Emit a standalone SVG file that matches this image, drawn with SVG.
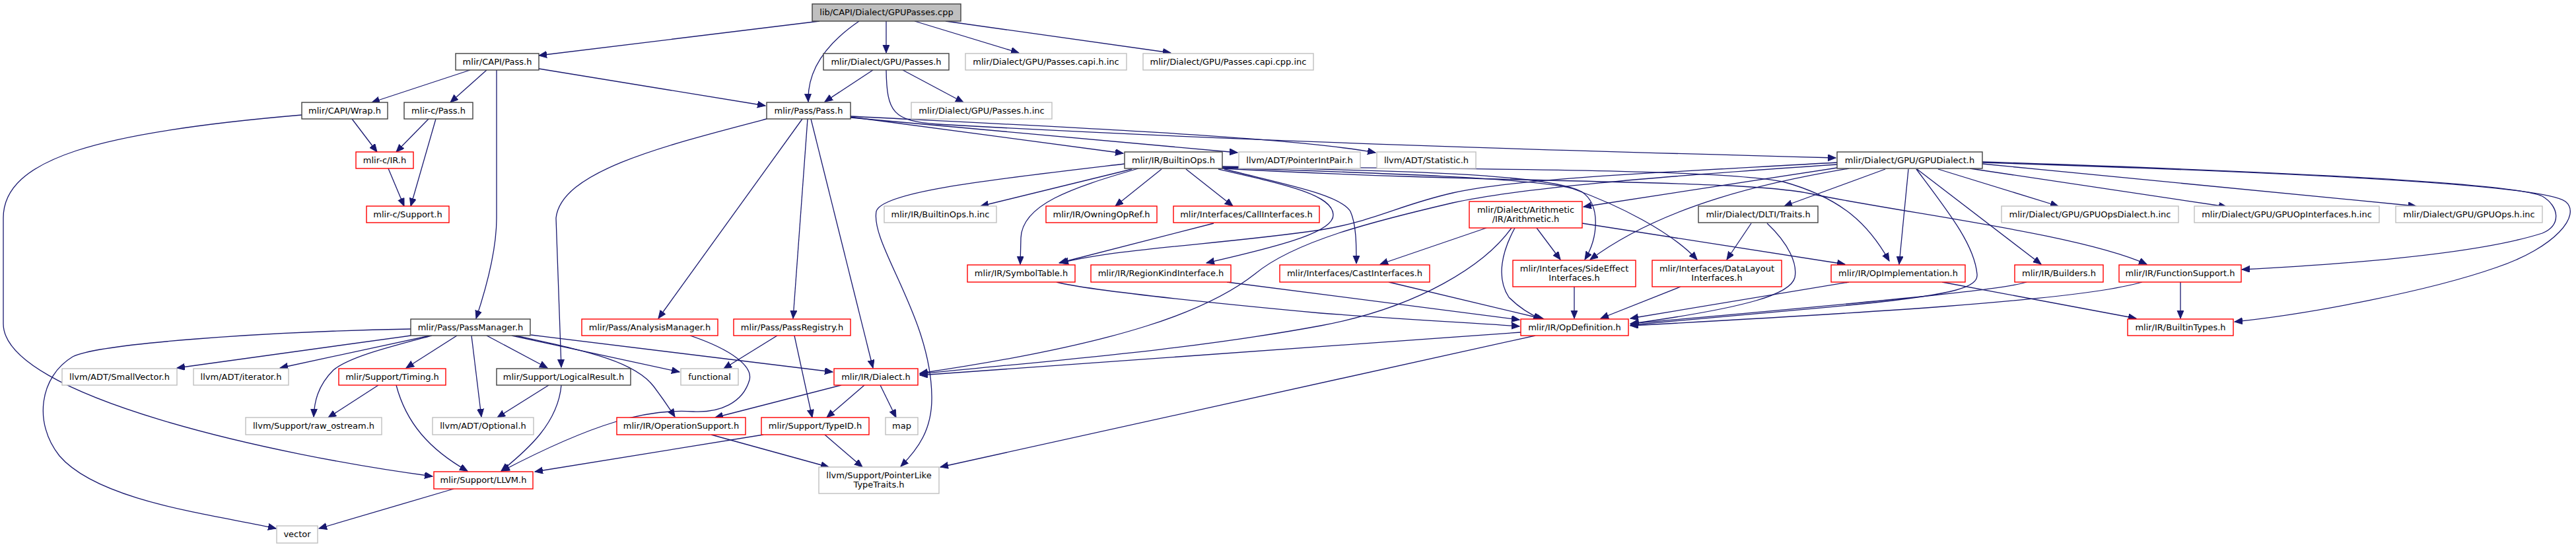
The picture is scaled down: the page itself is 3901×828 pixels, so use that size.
<svg xmlns="http://www.w3.org/2000/svg" width="3901" height="828" viewBox="0 0 3901 828">
<style>
rect{fill:#fff;stroke-width:1.4}
.b rect{stroke:#404040}
.r rect{stroke:#ff0000}
.g rect{stroke:#bfbfbf}
text{font-family:"DejaVu Sans","Liberation Sans",sans-serif;font-size:13px;text-anchor:middle;fill:#000}
#edges path{fill:none;stroke:#191970;stroke-width:1.3;marker-end:url(#a)}
</style>
<defs>
<marker id="a" markerUnits="userSpaceOnUse" markerWidth="14" markerHeight="12" refX="12" refY="5" orient="auto">
<path d="M0,0 L12,5 L0,10 z" fill="#191970" stroke="#191970" stroke-width="1"/>
</marker>
</defs>
<rect x="0" y="0" width="3901" height="828" style="fill:#fff;stroke:none"/>
<g id="edges">
<path d="M1241,32 L816,84"/>
<path d="M1301,32 C1260,60 1222,100 1224,154"/>
<path d="M1342,32 L1342,80"/>
<path d="M1385,32 L1543,80"/>
<path d="M1432,32 L1773,80"/>
<path d="M712,106 L563,155"/>
<path d="M737,106 L682,155"/>
<path d="M752,106 L752,330 C752,380 735,440 721,482"/>
<path d="M816,104 L1159,160"/>
<path d="M533,180 L571,230"/>
<path d="M457,174 C150,200 5,240 5,330 L5,490 C5,600 420,690 655,721"/>
<path d="M649,180 L600,230"/>
<path d="M660,180 L622,312"/>
<path d="M588,255 L612,312"/>
<path d="M1322,106 L1249,154"/>
<path d="M1367,106 L1459,155"/>
<path d="M1342,106 C1343,170 1352,183 1420,188 C1900,215 2400,229 2780,239"/>
<path d="M1288,177 L1701,232"/>
<path d="M1288,178 L1874,231"/>
<path d="M1288,176 C1600,192 1950,207 2083,231"/>
<path d="M1161,180 C1000,222 850,260 842,330 L850,556"/>
<path d="M1215,180 L997,482"/>
<path d="M1223,180 L1201,482"/>
<path d="M1228,180 L1322,557"/>
<path d="M1703,248 C1500,272 1335,290 1327,320 C1318,370 1410,480 1411,600 C1412,650 1390,680 1364,706"/>
<path d="M1714,256 L1485,312"/>
<path d="M1724,255 C1620,285 1548,310 1546,360 L1545,400"/>
<path d="M1759,256 L1689,312"/>
<path d="M1796,256 L1867,312"/>
<path d="M1845,256 C1950,280 2018,295 2019,325 C2020,350 1950,370 1827,398"/>
<path d="M1854,256 C1950,280 2030,295 2045,320 C2054,340 2054,370 2054,399"/>
<path d="M1851,253 C2100,258 2340,262 2395,290 C2425,310 2420,360 2400,393"/>
<path d="M1851,254 C2100,262 2320,270 2380,285 C2450,310 2530,350 2570,393"/>
<path d="M1851,252 C2200,256 2600,255 2700,275 C2790,300 2830,340 2861,395"/>
<path d="M1851,255 C2300,280 2650,270 2750,295 C2900,325 3150,355 3251,400"/>
<path d="M1838,338 L1604,398"/>
<path d="M2782,246 C2500,262 2300,270 2200,292 C2120,310 2080,335 2000,348 C1850,370 1700,375 1606,398"/>
<path d="M2782,249 C2500,268 2300,285 2200,307 C2080,335 1960,365 1900,415 C1830,470 1700,520 1393,565"/>
<path d="M2782,254 L2398,313"/>
<path d="M2800,255 C2680,275 2520,310 2408,393"/>
<path d="M2855,256 L2702,312"/>
<path d="M2890,256 L2876,400"/>
<path d="M2902,256 C2950,320 2990,370 2994,415 C2996,435 2960,445 2830,459 C2700,472 2560,483 2469,492"/>
<path d="M2903,256 L3091,400"/>
<path d="M2935,256 L3117,312"/>
<path d="M2983,255 L3372,313"/>
<path d="M3002,248 L3659,312"/>
<path d="M3002,245 C3400,258 3800,275 3850,297 C3875,312 3880,340 3850,353 C3750,385 3550,400 3395,408"/>
<path d="M3002,246 C3500,262 3850,280 3885,305 C3910,325 3870,375 3780,405 C3680,440 3500,475 3384,487"/>
<path d="M3302,427 L3302,482"/>
<path d="M2941,427 L3235,482"/>
<path d="M3069,427 C3030,440 2800,460 2469,490"/>
<path d="M3244,427 C3150,455 2800,475 2469,493"/>
<path d="M2800,427 L2469,482"/>
<path d="M2652,338 L2615,393"/>
<path d="M2676,338 C2710,370 2722,400 2718,420 C2712,445 2650,465 2470,490"/>
<path d="M2251,345 L2090,400"/>
<path d="M2327,345 L2363,393"/>
<path d="M2396,338 L2794,400"/>
<path d="M2294,345 C2275,380 2265,420 2285,450 C2300,465 2315,475 2334,483"/>
<path d="M2289,345 C2250,400 2150,465 2000,493 C1800,530 1600,545 1393,566"/>
<path d="M2384,434 L2384,482"/>
<path d="M2545,434 L2424,482"/>
<path d="M1600,427 C1650,440 1850,460 2000,474 C2150,485 2250,490 2301,494"/>
<path d="M1858,427 L2301,484"/>
<path d="M2103,427 L2338,483"/>
<path d="M2303,503 L1393,568"/>
<path d="M2325,508 L1424,707"/>
<path d="M622,498 C400,502 150,520 110,540 C60,570 50,640 90,690 C150,760 330,780 418,800"/>
<path d="M622,508 L268,557"/>
<path d="M651,508 L424,557"/>
<path d="M654,508 C590,525 530,540 505,560 C480,585 476,610 475,631"/>
<path d="M692,508 L615,557"/>
<path d="M714,508 L729,631"/>
<path d="M737,508 L829,557"/>
<path d="M775,508 L1029,563"/>
<path d="M781,508 C880,530 960,545 990,585 C1005,605 1015,620 1022,631"/>
<path d="M804,507 L1261,563"/>
<path d="M573,583 L497,632"/>
<path d="M600,583 C615,640 650,680 708,713"/>
<path d="M831,583 L753,632"/>
<path d="M850,583 C845,640 800,680 759,713"/>
<path d="M687,740 L483,800"/>
<path d="M1177,508 L1096,558"/>
<path d="M1203,508 L1230,632"/>
<path d="M1045,508 C1110,530 1140,555 1135,575 C1125,610 1090,625 1050,623 C980,618 900,640 760,713"/>
<path d="M1274,583 L1083,632"/>
<path d="M1309,583 L1252,632"/>
<path d="M1333,583 L1357,632"/>
<path d="M1077,658 L1255,707"/>
<path d="M1249,658 L1306,707"/>
<path d="M1156,658 L810,714"/>
</g>
<g id="root" class="b"><rect x="1230" y="6" width="225" height="26" style="fill:#bfbfbf"/><text x="1342.5" y="23">lib/CAPI/Dialect/GPUPasses.cpp</text></g>
<g id="capipass" class="b"><rect x="690" y="81" width="126" height="25"/><text x="753" y="97.5">mlir/CAPI/Pass.h</text></g>
<g id="gpupasses" class="b"><rect x="1247" y="81" width="190" height="25"/><text x="1342" y="97.5">mlir/Dialect/GPU/Passes.h</text></g>
<g id="capih" class="g"><rect x="1462" y="81" width="244" height="25"/><text x="1584" y="97.5">mlir/Dialect/GPU/Passes.capi.h.inc</text></g>
<g id="capicpp" class="g"><rect x="1731" y="81" width="258" height="25"/><text x="1860" y="97.5">mlir/Dialect/GPU/Passes.capi.cpp.inc</text></g>
<g id="wrap" class="b"><rect x="457" y="155" width="130" height="25"/><text x="522" y="171.5">mlir/CAPI/Wrap.h</text></g>
<g id="cpass" class="b"><rect x="612" y="155" width="104" height="25"/><text x="664" y="171.5">mlir-c/Pass.h</text></g>
<g id="pass" class="b"><rect x="1161" y="155" width="127" height="25"/><text x="1224.5" y="171.5">mlir/Pass/Pass.h</text></g>
<g id="passesinc" class="g"><rect x="1380" y="155" width="213" height="25"/><text x="1486.5" y="171.5">mlir/Dialect/GPU/Passes.h.inc</text></g>
<g id="cir" class="r"><rect x="539" y="230" width="87" height="25"/><text x="582.5" y="246.5">mlir-c/IR.h</text></g>
<g id="builtinops" class="b"><rect x="1703" y="230" width="148" height="25"/><text x="1777" y="246.5">mlir/IR/BuiltinOps.h</text></g>
<g id="pip" class="g"><rect x="1876" y="230" width="184" height="25"/><text x="1968" y="246.5">llvm/ADT/PointerIntPair.h</text></g>
<g id="stat" class="g"><rect x="2085" y="230" width="150" height="25"/><text x="2160" y="246.5">llvm/ADT/Statistic.h</text></g>
<g id="gpudialect" class="b"><rect x="2782" y="230" width="220" height="25"/><text x="2892" y="246.5">mlir/Dialect/GPU/GPUDialect.h</text></g>
<g id="csupport" class="r"><rect x="555" y="312" width="125" height="25"/><text x="617.5" y="328.5">mlir-c/Support.h</text></g>
<g id="builtinopsinc" class="g"><rect x="1339" y="312" width="170" height="25"/><text x="1424" y="328.5">mlir/IR/BuiltinOps.h.inc</text></g>
<g id="owning" class="r"><rect x="1584" y="312" width="168" height="25"/><text x="1668" y="328.5">mlir/IR/OwningOpRef.h</text></g>
<g id="call" class="r"><rect x="1777" y="312" width="221" height="25"/><text x="1887.5" y="328.5">mlir/Interfaces/CallInterfaces.h</text></g>
<g id="arith" class="r"><rect x="2225" y="305" width="171" height="40"/><text x="2310.5" y="321.5">mlir/Dialect/Arithmetic</text><text x="2310.5" y="336">/IR/Arithmetic.h</text></g>
<g id="dlti" class="b"><rect x="2572" y="312" width="181" height="25"/><text x="2662.5" y="328.5">mlir/Dialect/DLTI/Traits.h</text></g>
<g id="gpuopsdialect" class="g"><rect x="3031" y="312" width="268" height="25"/><text x="3165" y="328.5">mlir/Dialect/GPU/GPUOpsDialect.h.inc</text></g>
<g id="gpuopinterfaces" class="g"><rect x="3323" y="312" width="280" height="25"/><text x="3463" y="328.5">mlir/Dialect/GPU/GPUOpInterfaces.h.inc</text></g>
<g id="gpuops" class="g"><rect x="3628" y="312" width="222" height="25"/><text x="3739" y="328.5">mlir/Dialect/GPU/GPUOps.h.inc</text></g>
<g id="symbol" class="r"><rect x="1465" y="401" width="163" height="26"/><text x="1546.5" y="418">mlir/IR/SymbolTable.h</text></g>
<g id="region" class="r"><rect x="1652" y="401" width="212" height="26"/><text x="1758" y="418">mlir/IR/RegionKindInterface.h</text></g>
<g id="cast" class="r"><rect x="1938" y="401" width="227" height="26"/><text x="2051.5" y="418">mlir/Interfaces/CastInterfaces.h</text></g>
<g id="sideeffect" class="r"><rect x="2291" y="394" width="186" height="40"/><text x="2384" y="410.5">mlir/Interfaces/SideEffect</text><text x="2384" y="425">Interfaces.h</text></g>
<g id="datalayout" class="r"><rect x="2502" y="394" width="196" height="40"/><text x="2600" y="410.5">mlir/Interfaces/DataLayout</text><text x="2600" y="425">Interfaces.h</text></g>
<g id="opimpl" class="r"><rect x="2773" y="401" width="203" height="26"/><text x="2874.5" y="418">mlir/IR/OpImplementation.h</text></g>
<g id="builders" class="r"><rect x="3051" y="401" width="134" height="26"/><text x="3118" y="418">mlir/IR/Builders.h</text></g>
<g id="funcsupport" class="r"><rect x="3209" y="401" width="185" height="26"/><text x="3301.5" y="418">mlir/IR/FunctionSupport.h</text></g>
<g id="passmanager" class="b"><rect x="622" y="483" width="181" height="25"/><text x="712.5" y="499.5">mlir/Pass/PassManager.h</text></g>
<g id="analysis" class="r"><rect x="881" y="483" width="206" height="25"/><text x="984" y="499.5">mlir/Pass/AnalysisManager.h</text></g>
<g id="passregistry" class="r"><rect x="1111" y="483" width="177" height="25"/><text x="1199.5" y="499.5">mlir/Pass/PassRegistry.h</text></g>
<g id="opdef" class="r"><rect x="2303" y="483" width="163" height="25"/><text x="2384.5" y="499.5">mlir/IR/OpDefinition.h</text></g>
<g id="builtintypes" class="r"><rect x="3222" y="483" width="160" height="25"/><text x="3302" y="499.5">mlir/IR/BuiltinTypes.h</text></g>
<g id="smallvector" class="g"><rect x="94" y="558" width="174" height="25"/><text x="181" y="574.5">llvm/ADT/SmallVector.h</text></g>
<g id="iterator" class="g"><rect x="293" y="558" width="144" height="25"/><text x="365" y="574.5">llvm/ADT/iterator.h</text></g>
<g id="timing" class="r"><rect x="513" y="558" width="162" height="25"/><text x="594" y="574.5">mlir/Support/Timing.h</text></g>
<g id="logical" class="b"><rect x="752" y="558" width="203" height="25"/><text x="853.5" y="574.5">mlir/Support/LogicalResult.h</text></g>
<g id="functional" class="g"><rect x="1031" y="558" width="87" height="25"/><text x="1074.5" y="574.5">functional</text></g>
<g id="dialect" class="r"><rect x="1263" y="558" width="127" height="25"/><text x="1326.5" y="574.5">mlir/IR/Dialect.h</text></g>
<g id="rawostream" class="g"><rect x="372" y="632" width="206" height="26"/><text x="475" y="649">llvm/Support/raw_ostream.h</text></g>
<g id="optional" class="g"><rect x="655" y="632" width="153" height="26"/><text x="731.5" y="649">llvm/ADT/Optional.h</text></g>
<g id="opsupport" class="r"><rect x="934" y="632" width="195" height="26"/><text x="1031.5" y="649">mlir/IR/OperationSupport.h</text></g>
<g id="typeid" class="r"><rect x="1153" y="632" width="163" height="26"/><text x="1234.5" y="649">mlir/Support/TypeID.h</text></g>
<g id="map" class="g"><rect x="1341" y="632" width="49" height="26"/><text x="1365.5" y="649">map</text></g>
<g id="pointerlike" class="g"><rect x="1240" y="707" width="182" height="40"/><text x="1331" y="723.5">llvm/Support/PointerLike</text><text x="1331" y="738">TypeTraits.h</text></g>
<g id="llvm" class="r"><rect x="657" y="714" width="150" height="26"/><text x="732" y="731">mlir/Support/LLVM.h</text></g>
<g id="vector" class="g"><rect x="419" y="796" width="62" height="26"/><text x="450" y="813">vector</text></g>
</svg>
